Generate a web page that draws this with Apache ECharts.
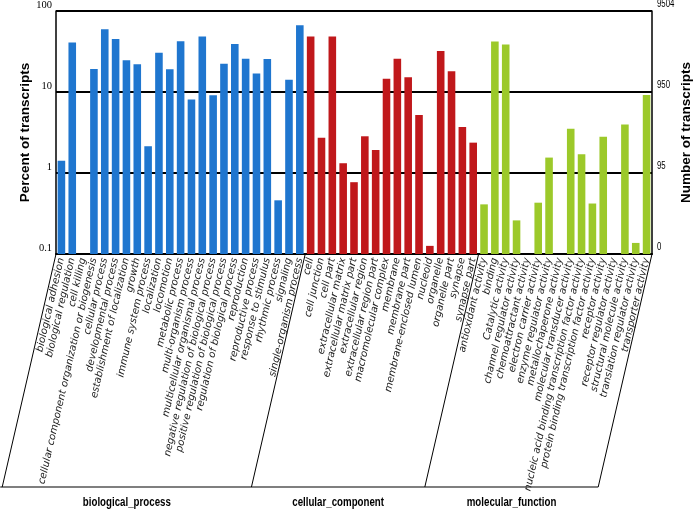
<!DOCTYPE html>
<html><head><meta charset="utf-8">
<script src="https://cdn.jsdelivr.net/npm/echarts@6/dist/echarts.min.js"></script>
<style>html,body{margin:0;padding:0;background:#fff}#c{width:696px;height:512px}</style>
</head><body><div id="c"></div>
<script>
const bpCategories = ['biological adhesion','biological regulation','cell killing','cellular component organization or biogenesis','cellular process','developmental process','establishment of localization','growth','immune system process','localization','locomotion','metabolic process','multi-organism process','multicellular organismal process','negative regulation of biological process','positive regulation of biological process','regulation of biological process','reproduction','reproductive process','response to stimulus','rhythmic process','signaling','single-organism process'];
const bpValues = [1.42,40.7,null,19.2,59.4,45.1,24.6,22,2.14,30.6,19.1,42.3,8.06,48.3,9.1,22.4,39.1,25.8,16.9,25.5,0.46,14.2,66.6];
const ccCategories = ['cell','cell junction','cell part','extracellular matrix','extracellular matrix part','extracellular region','extracellular region part','macromolecular complex','membrane','membrane part','membrane-enclosed lumen','nucleoid','organelle','organelle part','synapse','synapse part'];
const ccValues = [48.3,2.73,48.3,1.32,0.77,2.84,1.92,14.6,25.8,15.2,5.2,0.126,32.1,18,3.7,2.37];
const mfCategories = ['antioxidant activity','binding','Catalytic activity','channel regulator activity','chemoattractant activity','electron carrier activity','enzyme regulator activity','metallochaperone activity','molecular transducer activity','nucleic acid binding transcription factor activity','protein binding transcription factor activity','receptor activity','receptor regulator activity','structural molecule activity','translation regulator activity','transporter activity'];
const mfValues = [0.41,41.9,38.5,0.26,null,0.43,1.55,null,3.53,1.70,0.42,2.81,null,3.96,0.137,9.18];
const groupNames = ['biological_process','cellular_component','molecular_function'];
const groupColors = ['#1f76cf','#c0181b','#9cc92a'];
const leftTicks = [0.1, 1, 10, 100];
const leftTickLabels = ['0.1','1','10','100'];
const rightTickLabels = ['0','95','950','9504'];

const groups = [
  {cats: bpCategories, vals: bpValues},
  {cats: ccCategories, vals: ccValues},
  {cats: mfCategories, vals: mfValues}
];
const categories = [];
const data = [];
groups.forEach((g, gi) => {
  g.cats.forEach((c, i) => {
    categories.push(c);
    if (g.vals[i] != null) data.push([categories.length - 1, g.vals[i], gi]);
  });
});

const chart = echarts.init(document.getElementById('c'), null, {renderer: 'canvas'});
const tickIdx = v => Math.round(Math.log10(v)) + 1;
const AXIS_MIN = 0.1;
chart.setOption({
  animation: false,
  backgroundColor: '#fff',
  grid: {left: 56, right: 44, top: 11, bottom: 258, containLabel: false, outerBoundsMode: 'none'},
  xAxis: {
    type: 'category', data: categories,
    axisLine: {show: true, lineStyle: {color: '#000', width: 2}},
    axisTick: {show: false},
    axisLabel: {interval: 0, rotate: 77, margin: 4, fontFamily: 'DejaVu Sans', fontStyle: 'italic', fontSize: 10, color: '#222'}
  },
  yAxis: [{
    type: 'log', logBase: 10, min: AXIS_MIN, max: 100, position: 'left',
    name: 'Percent of transcripts', nameLocation: 'middle', nameGap: 24, nameMoveOverlap: false,
    nameTextStyle: {fontFamily: 'Liberation Sans', fontWeight: 'bold', fontSize: 13.5, color: '#000'},
    axisLine: {show: true, lineStyle: {color: '#000', width: 1.5}},
    axisTick: {show: false},
    axisLabel: {margin: 4, verticalAlign: 'bottom', fontFamily: 'Liberation Serif', fontSize: 10.5, color: '#000',
      formatter: v => leftTickLabels[tickIdx(v)]},
    splitLine: {show: true, lineStyle: {color: '#000', width: 2}}
  }, {
    type: 'log', logBase: 10, min: AXIS_MIN, max: 100, position: 'right',
    name: 'Number of transcripts', nameLocation: 'middle', nameGap: 27, nameRotate: 90, nameMoveOverlap: false,
    nameTextStyle: {fontFamily: 'Liberation Sans', fontWeight: 'bold', fontSize: 13.5, color: '#000'},
    axisLine: {show: true, lineStyle: {color: '#000', width: 1.5}},
    axisTick: {show: false},
    axisLabel: {show: false},
    splitLine: {show: false}
  }],
  series: [{
    type: 'custom', yAxisIndex: 0, data: data, encode: {x: 0, y: 1},
    renderItem: (params, api) => {
      const i = api.value(0), v = api.value(1), g = api.value(2);
      const top = api.coord([i, v]);
      const base = api.coord([i, AXIS_MIN]);
      const band = api.coord([1, 1])[0] - api.coord([0, 1])[0];
      const w = band * 0.7;
      return {type: 'rect', shape: {x: top[0] - w / 2, y: top[1], width: w, height: base[1] - top[1]},
        style: {fill: groupColors[g]}};
    }
  }]
});

// bracket lines, group labels and condensed right-axis labels, positioned from the axis scales
const x0 = chart.convertToPixel({xAxisIndex: 0}, categories[0]);
const x1 = chart.convertToPixel({xAxisIndex: 0}, categories[1]);
const band = x1 - x0;
const yBase = chart.convertToPixel({yAxisIndex: 0}, AXIS_MIN);
const yBottom = 487;
const slope = 1 / Math.tan(77 * Math.PI / 180);
const shift = (yBottom - yBase) * slope;
const bounds = [];
let idx = 0;
bounds.push(x0 - band / 2);
groups.forEach(g => { idx += g.cats.length; bounds.push(chart.convertToPixel({xAxisIndex: 0}, categories[idx - 1]) + band / 2); });
const graphics = [];
bounds.forEach(b => {
  graphics.push({type: 'line', shape: {x1: b, y1: yBase, x2: b - shift, y2: yBottom}, style: {stroke: '#000', lineWidth: 1}});
});
graphics.push({type: 'line', shape: {x1: bounds[0] - shift - 2, y1: yBottom, x2: bounds[3] - shift, y2: yBottom}, style: {stroke: '#000', lineWidth: 1.2}});
groupNames.forEach((n, i) => {
  graphics.push({type: 'text', x: (bounds[i] + bounds[i + 1]) / 2 - shift, y: 502, scaleX: 0.72,
    style: {text: n, fill: '#000', font: 'bold 13.5px "Liberation Sans"', textAlign: 'center', textVerticalAlign: 'middle'}});
});
const rightX = bounds[3];
leftTicks.forEach((t, i) => {
  graphics.push({type: 'text', x: rightX + 5, y: chart.convertToPixel({yAxisIndex: 1}, t) - 1, scaleX: 0.68,
    style: {text: rightTickLabels[i], fill: '#000', font: '11.5px "Liberation Sans"', textAlign: 'left', textVerticalAlign: 'bottom'}});
});
chart.setOption({graphic: graphics});
</script>
</body></html>
